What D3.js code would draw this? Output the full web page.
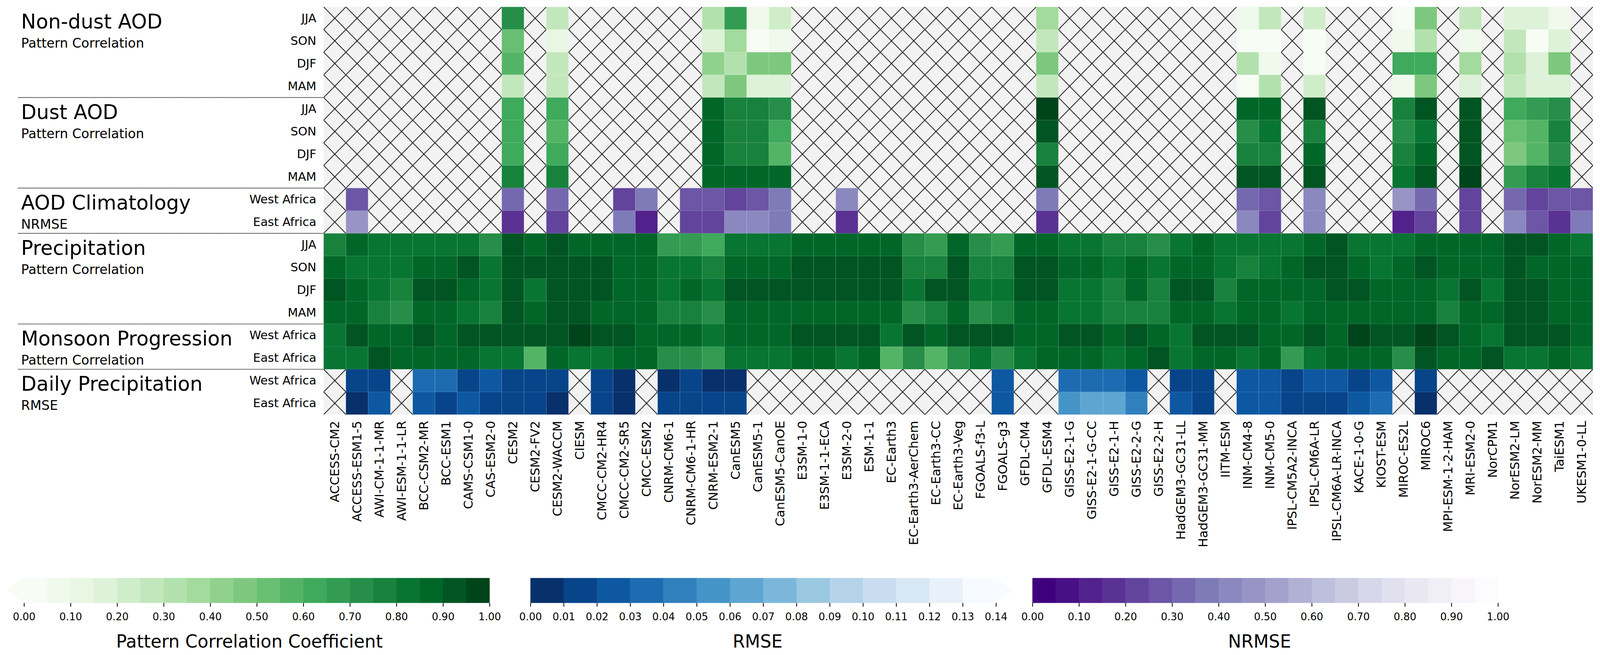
<!DOCTYPE html>
<html>
<head>
<meta charset="utf-8">
<script src="https://cdn.jsdelivr.net/npm/d3@7"></script>
<style>
    html, body { margin: 0; padding: 0; background: #fff; overflow: hidden; }
    #chart { width: 100vw; height: 100vh; }
    svg { display: block; }
    text { font-family: "DejaVu Sans", sans-serif; }
</style>
</head>
<body>
<div id="chart"></div>
<script>
const _ = null;   // no data -> hatched cell

const models = [
    "ACCESS-CM2", "ACCESS-ESM1-5", "AWI-CM-1-1-MR", "AWI-ESM-1-1-LR", "BCC-CSM2-MR", "BCC-ESM1", "CAMS-CSM1-0", "CAS-ESM2-0", "CESM2", "CESM2-FV2",
    "CESM2-WACCM", "CIESM", "CMCC-CM2-HR4", "CMCC-CM2-SR5", "CMCC-ESM2", "CNRM-CM6-1", "CNRM-CM6-1-HR", "CNRM-ESM2-1", "CanESM5", "CanESM5-1",
    "CanESM5-CanOE", "E3SM-1-0", "E3SM-1-1-ECA", "E3SM-2-0", "ESM-1-1", "EC-Earth3", "EC-Earth3-AerChem", "EC-Earth3-CC", "EC-Earth3-Veg", "FGOALS-f3-L",
    "FGOALS-g3", "GFDL-CM4", "GFDL-ESM4", "GISS-E2-1-G", "GISS-E2-1-G-CC", "GISS-E2-1-H", "GISS-E2-2-G", "GISS-E2-2-H", "HadGEM3-GC31-LL", "HadGEM3-GC31-MM",
    "IITM-ESM", "INM-CM4-8", "INM-CM5-0", "IPSL-CM5A2-INCA", "IPSL-CM6A-LR", "IPSL-CM6A-LR-INCA", "KACE-1-0-G", "KIOST-ESM", "MIROC-ES2L", "MIROC6",
    "MPI-ESM-1-2-HAM", "MRI-ESM2-0", "NorCPM1", "NorESM2-LM", "NorESM2-MM", "TaiESM1", "UKESM1-0-LL"
];

// Non-dust AOD, pattern correlation
const ndJJA = [_,_,_,_,_,_,_,_,.72,_,  .27,_,_,_,_,_,_,.32,.67,.07,  .22,_,_,_,_,_,_,_,_,_,  _,_,.37,_,_,_,_,_,_,_,  _,.07,.27,_,.22,_,_,_,.02,.47,  _,.27,_,.17,.17,.07,_];
const ndSON = [_,_,_,_,_,_,_,_,.52,_,  .12,_,_,_,_,_,_,.17,.37,.02,  .07,_,_,_,_,_,_,_,_,_,  _,_,.27,_,_,_,_,_,_,_,  _,.02,.02,_,.02,_,_,_,.07,.32,  _,.07,_,.27,.02,.17,_];
const ndDJF = [_,_,_,_,_,_,_,_,.57,_,  .27,_,_,_,_,_,_,.42,.32,.47,  .47,_,_,_,_,_,_,_,_,_,  _,_,.47,_,_,_,_,_,_,_,  _,.32,.07,_,.02,_,_,_,.62,.62,  _,.37,_,.32,.17,.47,_];
const ndMAM = [_,_,_,_,_,_,_,_,.27,_,  .27,_,_,_,_,_,_,.27,.47,.17,  .17,_,_,_,_,_,_,_,_,_,  _,_,.27,_,_,_,_,_,_,_,  _,.02,.32,_,.22,_,_,_,.07,.47,  _,.17,_,.27,.17,.17,_];

// Dust AOD, pattern correlation
const dustJJA = [_,_,_,_,_,_,_,_,.62,_,  .62,_,_,_,_,_,_,.87,.77,.77,  .72,_,_,_,_,_,_,_,_,_,  _,_,.97,_,_,_,_,_,_,_,  _,.87,.87,_,.92,_,_,_,.77,.92,  _,.92,_,.62,.67,.72,_];
const dustSON = [_,_,_,_,_,_,_,_,.62,_,  .57,_,_,_,_,_,_,.87,.77,.77,  .62,_,_,_,_,_,_,_,_,_,  _,_,.92,_,_,_,_,_,_,_,  _,.72,.82,_,.77,_,_,_,.72,.82,  _,.92,_,.52,.57,.77,_];
const dustDJF = [_,_,_,_,_,_,_,_,.62,_,  .62,_,_,_,_,_,_,.87,.77,.77,  .57,_,_,_,_,_,_,_,_,_,  _,_,.77,_,_,_,_,_,_,_,  _,.77,.77,_,.87,_,_,_,.77,.87,  _,.92,_,.47,.57,.72,_];
const dustMAM = [_,_,_,_,_,_,_,_,.77,_,  .77,_,_,_,_,_,_,.87,.87,.87,  .87,_,_,_,_,_,_,_,_,_,  _,_,.92,_,_,_,_,_,_,_,  _,.92,.92,_,.92,_,_,_,.82,.92,  _,.97,_,.67,.77,.82,_];

// AOD climatology, NRMSE
const aodWest = [_,.27,_,_,_,_,_,_,.32,_,  .32,_,_,.22,.37,_,.27,.27,.22,.27,  .37,_,_,.42,_,_,_,_,_,_,  _,_,.37,_,_,_,_,_,_,_,  _,.32,.27,_,.42,_,_,_,.47,.32,  _,.22,_,.32,.22,.27,.27];
const aodEast = [_,.47,_,_,_,_,_,_,.17,_,  .22,_,_,.37,.12,_,.22,.22,.42,.42,  .37,_,_,.17,_,_,_,_,_,_,  _,_,.17,_,_,_,_,_,_,_,  _,.42,.22,_,.42,_,_,_,.12,.22,  _,.22,_,.42,.27,.17,.37];

// Precipitation, pattern correlation
const prJJA = [.77,.87,.82,.82,.82,.82,.82,.72,.92,.87,  .92,.87,.87,.87,.87,.67,.67,.62,.82,.82,  .82,.87,.87,.87,.87,.87,.72,.67,.87,.72,  .67,.87,.87,.82,.82,.77,.77,.72,.82,.87,  .82,.82,.82,.82,.87,.92,.82,.82,.82,.87,  .87,.87,.87,.92,.92,.87,.82];
const prSON = [.87,.82,.82,.82,.87,.87,.92,.82,.92,.92,  .92,.92,.92,.87,.87,.82,.82,.77,.87,.87,  .87,.92,.92,.92,.92,.92,.77,.77,.92,.77,  .77,.92,.92,.87,.87,.82,.87,.82,.87,.87,  .82,.77,.82,.87,.92,.92,.87,.82,.87,.92,  .87,.87,.87,.92,.87,.87,.87];
const prDJF = [.92,.87,.82,.77,.92,.92,.87,.82,.92,.82,  .92,.92,.92,.87,.87,.82,.87,.82,.92,.92,  .92,.92,.92,.92,.92,.92,.82,.92,.92,.82,  .82,.92,.92,.82,.82,.77,.87,.77,.92,.92,  .77,.87,.87,.87,.87,.92,.92,.87,.87,.87,  .82,.92,.82,.92,.92,.87,.87];
const prMAM = [.87,.87,.77,.72,.87,.87,.82,.77,.92,.87,  .92,.92,.87,.87,.87,.77,.77,.72,.87,.87,  .87,.87,.87,.87,.87,.87,.72,.77,.87,.72,  .77,.87,.87,.82,.82,.77,.77,.77,.87,.87,  .82,.87,.87,.82,.87,.87,.87,.87,.87,.87,  .77,.87,.87,.92,.92,.87,.87];

// Monsoon progression, pattern correlation
const monWest = [.82,.92,.87,.87,.92,.87,.92,.92,.92,.92,  .92,.97,.92,.92,.87,.87,.87,.82,.87,.87,  .87,.92,.92,.92,.92,.82,.92,.87,.92,.92,  .92,.87,.87,.92,.92,.87,.92,.87,.82,.92,  .92,.92,.87,.87,.92,.87,.97,.92,.92,.97,  .92,.87,.82,.92,.92,.92,.87];
const monEast = [.82,.82,.92,.87,.87,.87,.87,.82,.82,.57,  .87,.82,.82,.87,.87,.72,.72,.67,.82,.82,  .82,.87,.87,.82,.87,.57,.72,.57,.72,.82,  .72,.82,.87,.87,.87,.82,.87,.92,.82,.87,  .87,.82,.87,.67,.82,.87,.87,.87,.72,.92,  .87,.87,.92,.82,.82,.87,.82];

// Daily precipitation, RMSE
const dailyWest = [_,.015,.015,_,.035,.035,.015,.025,.015,.015,  .015,_,.015,.005,_,.005,.015,.005,.005,_,  _,_,_,_,_,_,_,_,_,_,  .025,_,_,.035,.035,.035,.025,_,.015,.015,  _,.025,.025,.015,.025,.025,.015,.025,_,.015,  _,_,_,_,_,_,_];
const dailyEast = [_,.005,.025,_,.025,.015,.025,.015,.015,.015,  .005,_,.015,.005,_,.015,.015,.015,.015,_,  _,_,_,_,_,_,_,_,_,_,  .025,_,_,.055,.065,.065,.045,_,.025,.015,  _,.025,.025,.015,.015,.015,.025,.035,_,.005,  _,_,_,_,_,_,_];

const groups = [
    {title: "Non-dust AOD", sub: "Pattern Correlation", metric: "corr",
        rows: [["JJA", ndJJA], ["SON", ndSON], ["DJF", ndDJF], ["MAM", ndMAM]]},
    {title: "Dust AOD", sub: "Pattern Correlation", metric: "corr",
        rows: [["JJA", dustJJA], ["SON", dustSON], ["DJF", dustDJF], ["MAM", dustMAM]]},
    {title: "AOD Climatology", sub: "NRMSE", metric: "nrmse",
        rows: [["West Africa", aodWest], ["East Africa", aodEast]]},
    {title: "Precipitation", sub: "Pattern Correlation", metric: "corr",
        rows: [["JJA", prJJA], ["SON", prSON], ["DJF", prDJF], ["MAM", prMAM]]},
    {title: "Monsoon Progression", sub: "Pattern Correlation", metric: "corr",
        rows: [["West Africa", monWest], ["East Africa", monEast]]},
    {title: "Daily Precipitation", sub: "RMSE", metric: "rmse",
        rows: [["West Africa", dailyWest], ["East Africa", dailyEast]]}
];

const corrTicks = d3.range(0, 11).map(i => i / 10);
const rmseTicks = d3.range(0, 15).map(i => i / 100);
const nrmseTicks = d3.range(0, 11).map(i => i / 10);

// colour ramps (linear between the ColorBrewer stops, like matplotlib)
const greensStops = ["#f7fcf5", "#e5f5e0", "#c7e9c0", "#a1d99b", "#74c476", "#41ab5d", "#238b45", "#006d2c", "#00441b"];
const bluesStops = ["#f7fbff", "#deebf7", "#c6dbef", "#9ecae1", "#6baed6", "#4292c6", "#2171b5", "#08519c", "#08306b"];
const purplesStops = ["#fcfbfd", "#efedf5", "#dadaeb", "#bcbddc", "#9e9ac8", "#807dba", "#6a51a3", "#54278f", "#3f007d"];

function ramp(stops) {
    return d3.scaleLinear()
        .domain(stops.map((d, i) => i / (stops.length - 1)))
        .range(stops)
        .interpolate(d3.interpolateRgb)
        .clamp(true);
}
let greens = ramp(greensStops), blues = ramp(bluesStops), purples = ramp(purplesStops);

// discrete colour scales
const metrics = {
    corr: {
        max: 1, step: 0.05, ticks: corrTicks, label: "Pattern Correlation Coefficient",
        color: d3.scaleThreshold()
            .domain(d3.range(1, 20).map(i => i * 0.05))
            .range(d3.range(20).map(i => greens(i / 19)))
    },
    rmse: {
        max: 0.14, step: 0.01, ticks: rmseTicks, label: "RMSE",
        color: d3.scaleThreshold()
            .domain(d3.range(1, 15).map(i => i * 0.01))
            .range(d3.range(14).map(i => blues(1 - i / 13)).concat([blues(0)]))
    },
    nrmse: {
        max: 1, step: 0.05, ticks: nrmseTicks, label: "NRMSE",
        color: d3.scaleThreshold()
            .domain(d3.range(1, 20).map(i => i * 0.05))
            .range(d3.range(20).map(i => purples(1 - i / 19)))
    }
};

// layout (in the 4169 x 1678 user space; the svg is stretched to the window)
const W = 4169, H = 1678;
const x0 = 843.3, y0 = 17.7, cell = 58.02;

let rowList = [];
groups.forEach((g, gi) => g.rows.forEach((r, ri) => {
    rowList.push({key: gi + "-" + ri, label: r[0], values: r[1], metric: g.metric, group: gi});
}));

const svg = d3.select("#chart").append("svg")
    .attr("width", "100%")
    .attr("height", "100%")
    .attr("viewBox", `0 0 ${W} ${H}`)
    .attr("preserveAspectRatio", "none");

let x = d3.scaleBand()
    .domain(models)
    .range([x0, x0 + models.length * cell]);

let y = d3.scaleBand()
    .domain(rowList.map(d => d.key))
    .range([y0, y0 + rowList.length * cell]);

// hatch for missing values
let defs = svg.append("defs");
let pat = defs.append("pattern")
    .attr("id", "hatch")
    .attr("patternUnits", "userSpaceOnUse")
    .attr("x", x0).attr("y", y0)
    .attr("width", cell).attr("height", cell);
pat.append("rect").attr("width", cell).attr("height", cell).attr("fill", "#f2f2f2");
pat.append("line").attr("x1", -1).attr("y1", -1).attr("x2", cell + 1).attr("y2", cell + 1)
    .attr("stroke", "#000").attr("stroke-width", 1.9);
pat.append("line").attr("x1", -1).attr("y1", cell + 1).attr("x2", cell + 1).attr("y2", -1)
    .attr("stroke", "#000").attr("stroke-width", 1.9);

// cells
let cells = [];
rowList.forEach(r => r.values.forEach((v, i) => cells.push({row: r, model: models[i], value: v})));

svg.append("g").attr("class", "cells")
    .selectAll("rect")
    .data(cells)
    .enter()
    .append("rect")
    .attr("x", d => x(d.model))
    .attr("y", d => y(d.row.key))
    .attr("width", x.bandwidth())
    .attr("height", y.bandwidth())
    .attr("fill", d => d.value === null ? "url(#hatch)" : metrics[d.row.metric].color(d.value))
    .attr("stroke", d => d.value === null ? "none" : "#ffffff")
    .attr("stroke-opacity", 0.12)
    .attr("stroke-width", 1);

// row labels
let yAxis = d3.axisLeft(y)
    .tickSize(0)
    .tickPadding(19)
    .tickFormat(k => rowList.find(r => r.key === k).label);

let yAxisGroup = svg.append("g")
    .attr("transform", "translate(" + x0 + ",0)")
    .call(yAxis);
yAxisGroup.select(".domain").remove();
yAxisGroup.selectAll("text")
    .attr("font-family", "DejaVu Sans")
    .attr("font-size", 31)
    .attr("fill", "#000");

// model labels
let xAxis = d3.axisBottom(x).tickSize(0).tickPadding(0);
let xAxisGroup = svg.append("g")
    .attr("transform", "translate(0," + (y0 + rowList.length * cell) + ")")
    .call(xAxis);
xAxisGroup.select(".domain").remove();
xAxisGroup.selectAll("text")
    .attr("font-family", "DejaVu Sans")
    .attr("font-size", 32)
    .attr("fill", "#000")
    .attr("y", 0)
    .attr("x", -16)
    .attr("dy", "0.35em")
    .attr("transform", "rotate(-90)")
    .style("text-anchor", "end");

// group titles and separators
groups.forEach((g, gi) => {
    let top = y(gi + "-0");
    svg.append("text")
        .attr("x", 55).attr("y", top + 55)
        .attr("font-size", 52)
        .text(g.title);
    svg.append("text")
        .attr("x", 55).attr("y", top + 104)
        .attr("font-size", 34)
        .text(g.sub);
    if (gi > 0) {
        svg.append("line")
            .attr("x1", 47).attr("x2", x0)
            .attr("y1", top).attr("y2", top)
            .attr("stroke", "#000")
            .attr("stroke-width", 2.2)
            .attr("stroke-dasharray", "2,1.6");
    }
});

// colour bars
const barTop = 1480.7, barH = 64, tri = 45;
const bars = [
    {metric: "corr", x1: 62.5, x2: 1275.5, extend: "min", labelX: 650},
    {metric: "rmse", x1: 1382, x2: 2595, extend: "max", labelX: 1974},
    {metric: "nrmse", x1: 2690, x2: 3903, extend: "none", labelX: 3282}
];

bars.forEach(b => {
    let m = metrics[b.metric];
    let scale = d3.scaleLinear().domain([0, m.max]).range([b.x1, b.x2]);
    let nBins = Math.round(m.max / m.step);
    let bins = d3.range(nBins).map(i => ({lo: i * m.step, hi: (i + 1) * m.step}));
    let g = svg.append("g").attr("class", "colorbar");

    g.selectAll("rect")
        .data(bins)
        .enter()
        .append("rect")
        .attr("x", d => scale(d.lo))
        .attr("y", barTop)
        .attr("width", d => scale(d.hi) - scale(d.lo) + 0.5)
        .attr("height", barH)
        .attr("fill", d => m.color((d.lo + d.hi) / 2));

    if (b.extend === "min") {
        g.append("path")
            .attr("d", `M${scale(0)},${barTop} L${scale(0) - tri},${barTop + barH / 2} L${scale(0)},${barTop + barH} Z`)
            .attr("fill", m.color(-1));
    }
    if (b.extend === "max") {
        g.append("path")
            .attr("d", `M${scale(m.max)},${barTop} L${scale(m.max) + tri},${barTop + barH / 2} L${scale(m.max)},${barTop + barH} Z`)
            .attr("fill", m.color(m.max + 1));
    }

    let axis = d3.axisBottom(scale)
        .tickValues(m.ticks)
        .tickSize(9.5)
        .tickPadding(16)
        .tickFormat(d3.format(".2f"));
    let ag = g.append("g")
        .attr("transform", "translate(0," + (barTop + barH) + ")")
        .call(axis);
    ag.select(".domain").remove();
    ag.selectAll("line").attr("stroke", "#000").attr("stroke-width", 2);
    ag.selectAll("text")
        .attr("font-family", "DejaVu Sans")
        .attr("font-size", 26.5)
        .attr("fill", "#000");

    g.append("text")
        .attr("x", b.labelX)
        .attr("y", 1659)
        .attr("text-anchor", "middle")
        .attr("font-size", 46)
        .text(m.label);
});
</script>
</body>
</html>
